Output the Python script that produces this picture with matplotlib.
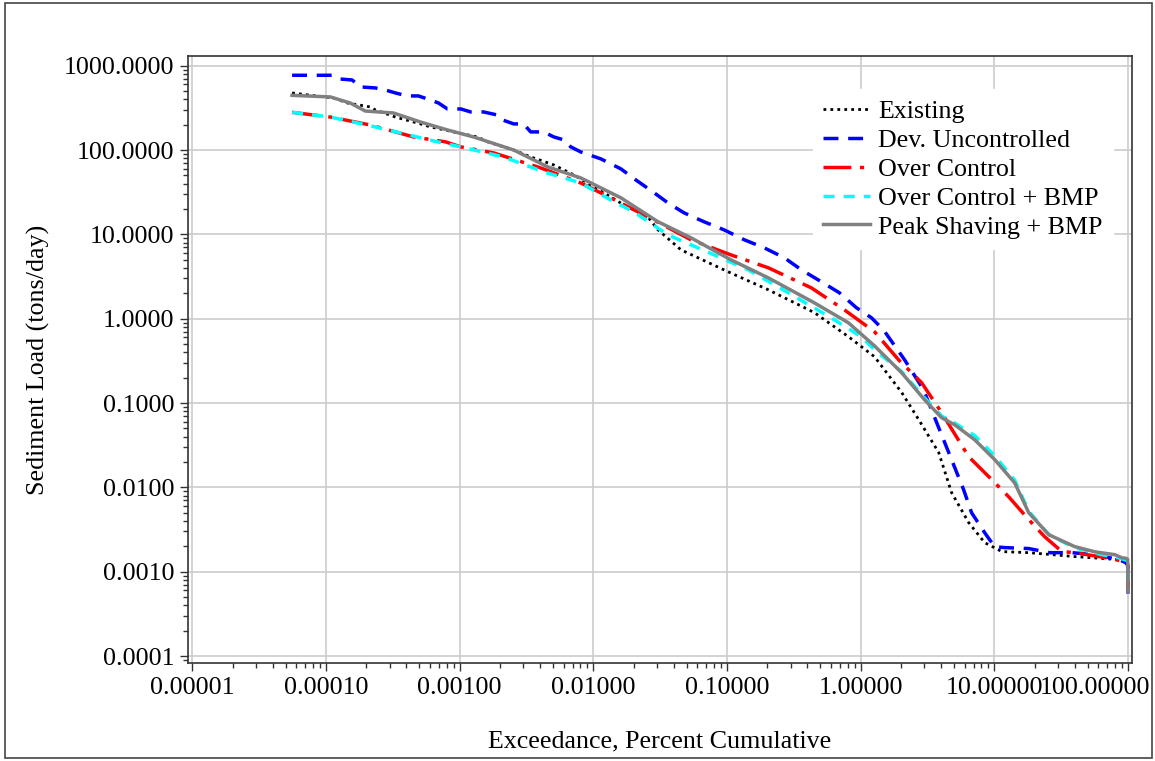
import numpy as np
import matplotlib
matplotlib.use("Agg")
import matplotlib.pyplot as plt
from matplotlib.ticker import LogLocator, FuncFormatter, NullFormatter
from matplotlib.patches import Rectangle

plt.rcParams["font.family"] = ["Liberation Serif", "DejaVu Serif"]

# =========================
# DATA (exceedance %, sediment load tons/day)
# =========================

existing_x = [5.58e-5, 1.14e-4, 1.45e-4, 2.15e-4, 2.34e-4, 3.31e-4, 4.84e-4, 6.05e-4,
              9.01e-4, 1.36e-3, 1.62e-3, 2.54e-3, 3.40e-3, 5.06e-3, 7.15e-3, 1.01e-2,
              1.69e-2, 2.56e-2, 3.05e-2, 4.53e-2, 0.102, 0.204, 0.451, 0.811, 1.27,
              2.03, 2.72, 3.84, 4.79, 6.43, 8.47, 11.4, 18.1, 40.0, 85.5, 94.9, 99.5, 100.0]
existing_y = [475, 414, 361, 324, 299, 246, 209, 188,
              164, 143, 125, 100, 82.8, 66.6, 50.7, 36.5,
              22.4, 16.1, 11.3, 6.55, 3.60, 2.20, 1.18, 0.611, 0.354,
              0.133, 0.0634, 0.0258, 0.00865, 0.00382, 0.00221, 0.00173, 0.00168,
              0.00151, 0.00139, 0.00128, 0.0012, 0.0008]

dev_x = [5.58e-5, 1.11e-4, 1.28e-4, 1.57e-4, 1.81e-4, 2.34e-4, 2.79e-4, 3.31e-4,
         4.07e-4, 4.92e-4, 6.05e-4, 6.95e-4, 8.11e-4, 1.02e-3, 1.21e-3, 1.51e-3,
         1.92e-3, 2.10e-3, 2.54e-3, 3.01e-3, 3.40e-3, 4.26e-3, 5.06e-3, 6.01e-3,
         6.78e-3, 8.06e-3, 1.14e-2, 1.61e-2, 2.08e-2, 2.79e-2, 3.62e-2, 4.77e-2,
         6.74e-2, 9.52e-2, 0.135, 0.190, 0.269, 0.360, 0.508, 0.693, 0.929, 1.20,
         1.48, 2.13, 2.95, 3.89, 4.79, 5.89, 6.76, 8.47, 10.05, 11.9, 18.1, 26.0,
         38.0, 56.5, 85.5, 95.0, 99.5, 100.0]
dev_y = [770, 770, 695, 677, 560, 545, 515, 475,
         438, 438, 392, 361, 307, 307, 283, 283,
         260, 227, 204, 204, 164, 164, 143, 132,
         109, 94.9, 78.5, 59.7, 44.2, 31.9, 23.6, 18.0,
         14.1, 11.3, 8.61, 6.92, 5.27, 3.80, 2.74, 2.03, 1.35, 1.03,
         0.739, 0.326, 0.144, 0.0483, 0.0213, 0.0094, 0.0050, 0.00290, 0.00198,
         0.00193, 0.00188, 0.00168, 0.00168, 0.00159, 0.00139, 0.0013, 0.0012, 0.00055]

over_x = [5.58e-5, 1.08e-4, 2.15e-4, 4.52e-4, 7.85e-4, 1.02e-3, 1.80e-3, 4.04e-3,
          8.06e-3, 1.35e-2, 2.56e-2, 5.38e-2, 0.107, 0.204, 0.428, 0.757, 1.27,
          1.92, 2.86, 4.04, 6.43, 9.08, 12.8, 18.1, 23.8, 32.0, 40.0, 67.2, 94.9,
          99.5, 100.0]
over_y = [280, 246, 198, 143, 125, 109, 92.4, 61.4,
          40.7, 27.1, 16.1, 8.61, 5.71, 4.01, 2.32, 1.27, 0.700,
          0.326, 0.174, 0.0766, 0.0231, 0.0134, 0.00774, 0.00414, 0.00260,
          0.00173, 0.00168, 0.00147, 0.00132, 0.0012, 0.0006]

over_bmp_x = [5.58e-5, 1.08e-4, 2.34e-4, 6.84e-4, 1.02e-3, 2.13e-3, 4.26e-3, 8.06e-3,
              1.43e-2, 2.01e-2, 3.62e-2, 8.02e-2, 0.144, 0.288, 0.637, 1.01, 1.27,
              2.03, 3.01, 4.04, 5.05, 7.14, 10.1, 14.2, 18.1, 25.6, 40.0, 63.8, 79.8,
              93.0, 99.5, 100.0]
over_bmp_y = [280, 246, 188, 125, 109, 82.8, 55.1, 40.7,
              24.3, 18.5, 9.86, 5.71, 3.80, 2.03, 0.97, 0.611, 0.428,
              0.235, 0.115, 0.070, 0.058, 0.041, 0.0235, 0.0122, 0.0052, 0.00274,
              0.00192, 0.00159, 0.0015, 0.0014, 0.00135, 0.0006]

peak_x = [5.58e-5, 1.08e-4, 1.52e-4, 1.97e-4, 3.20e-4, 5.09e-4, 8.11e-4, 1.27e-3,
          2.54e-3, 4.56e-3, 8.06e-3, 1.61e-2, 3.05e-2, 5.38e-2, 0.107, 0.204, 0.451,
          0.811, 1.27, 2.03, 3.01, 4.04, 5.05, 7.14, 10.1, 14.2, 18.1, 25.6, 40.0,
          56.5, 79.8, 90.1, 97.0, 99.5, 100.0]
peak_y = [445, 426, 361, 290, 275, 215, 173, 143,
          100, 63.1, 46.7, 27.1, 14.1, 9.10, 4.99, 3.05, 1.54,
          0.893, 0.476, 0.228, 0.109, 0.0668, 0.0552, 0.0366, 0.0212, 0.0113,
          0.00500, 0.00274, 0.00198, 0.00172, 0.00159, 0.00146, 0.00144, 0.0014,
          0.00058]

series_labels = ["Existing", "Dev. Uncontrolled", "Over Control",
                 "Over Control + BMP", "Peak Shaving + BMP"]

x_ticks = [1e-5, 1e-4, 1e-3, 1e-2, 1e-1, 1, 10, 100]
y_ticks = [1e-4, 1e-3, 1e-2, 1e-1, 1, 10, 100, 1000]

FS = 18.7

# =========================
# PLOT
# =========================

fig = plt.figure(figsize=(11.55, 7.61), dpi=100)
ax = fig.add_axes([188 / 1155, 1 - 663 / 761, (1132 - 188) / 1155, (663 - 56) / 761])

ax.plot(existing_x, existing_y, color="black", lw=2.0, linestyle=(0, (1, 1.5)),
        label=series_labels[0], zorder=3)
ax.plot(dev_x, dev_y, color="#0000ff", lw=2.5, linestyle=(0, (4.3, 2.8)),
        label=series_labels[1], zorder=4)
ax.plot(over_x, over_y, color="#ff0000", lw=2.5, linestyle=(0, (8, 2.5, 1.2, 2.5)),
        label=series_labels[2], zorder=4)
ax.plot(over_bmp_x, over_bmp_y, color="#00ffff", lw=2.5, linestyle=(0, (3.2, 2.6)),
        label=series_labels[3], zorder=5)
ax.plot(peak_x, peak_y, color="#808080", lw=2.5, linestyle="-",
        label=series_labels[4], zorder=6)

ax.set_xscale("log")
ax.set_yscale("log")
ax.set_xlim(10 ** -5.032, 10 ** 2.030)
ax.set_ylim(10 ** -4.083, 10 ** 3.115)

# the last x label is drawn separately, shifted left like in the original
ax.set_xticks(x_ticks)
ax.set_yticks(y_ticks)
ax.xaxis.set_major_formatter(FuncFormatter(lambda v, p: "" if v >= 100 else "%.5f" % v))
ax.yaxis.set_major_formatter(FuncFormatter(lambda v, p: "%.4f" % v))
ax.xaxis.set_minor_locator(LogLocator(base=10, subs=np.arange(2, 10), numticks=20))
ax.yaxis.set_minor_locator(LogLocator(base=10, subs=np.arange(2, 10), numticks=20))
ax.xaxis.set_minor_formatter(NullFormatter())
ax.yaxis.set_minor_formatter(NullFormatter())

ax.tick_params(which="major", direction="out", length=6, width=1, labelsize=FS,
               color="#333333", pad=4)
ax.tick_params(which="minor", direction="out", length=3.5, width=1, color="#333333")

ax.annotate("%.5f" % x_ticks[-1], xy=(x_ticks[-1], 0), xycoords=("data", "axes fraction"),
            xytext=(16, -10), textcoords="offset points", ha="right", va="top",
            fontsize=FS)

ax.grid(True, which="major", color="#cccccc", lw=1.2)
ax.set_axisbelow(True)
for sp in ax.spines.values():
    sp.set_color("#333333")
    sp.set_linewidth(1.2)

ax.set_xlabel("Exceedance, Percent Cumulative", fontsize=FS, labelpad=23)
ax.set_ylabel("Sediment Load (tons/day)", fontsize=FS, labelpad=10)

leg = ax.legend(loc="upper left", bbox_to_anchor=(0.662, 0.945), fontsize=FS,
                frameon=True, fancybox=False, framealpha=1, edgecolor="white",
                handlelength=1.8, handletextpad=0.3, labelspacing=0.22,
                borderpad=0.4, borderaxespad=0)
leg.set_zorder(10)

# outer border of the picture
fig.patches.append(Rectangle((5 / 1155, 3 / 761), 1147 / 1155, 755 / 761,
                             transform=fig.transFigure, fill=False,
                             edgecolor="#444444", lw=1.2))

fig.savefig("out.png", dpi=100)
plt.close()
